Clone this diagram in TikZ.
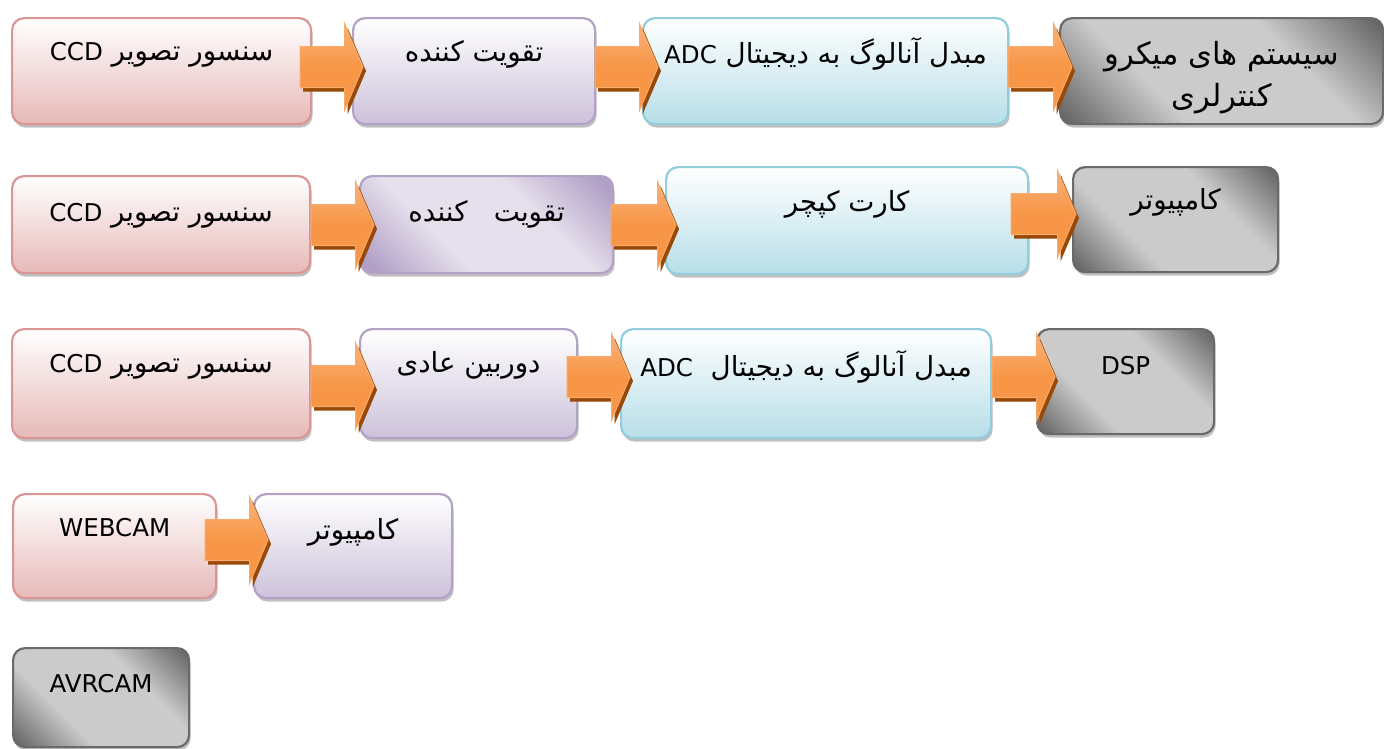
\documentclass[tikz,border=0pt]{standalone}
\usepackage{fontspec}
\setmainfont{DejaVu Sans}
\newfontfamily\fa[Script=Arabic,Scale=1.13]{DejaVu Sans}
\TeXXeTstate=1
\usetikzlibrary{calc,shadows}
\definecolor{pinkB}{HTML}{D99694}
\definecolor{pinkD}{HTML}{E6B9B8}
\definecolor{pinkM}{HTML}{F2DCDB}
\definecolor{purB}{HTML}{B2A2C7}
\definecolor{purD}{HTML}{CCC1DA}
\definecolor{purM}{HTML}{E6E0EC}
\definecolor{purK}{HTML}{B09FC6}
\definecolor{bluB}{HTML}{93CDDD}
\definecolor{bluD}{HTML}{B7DEE8}
\definecolor{bluM}{HTML}{DBEEF4}
\definecolor{grayB}{HTML}{6A6A6A}
\definecolor{grayK}{HTML}{666666}
\definecolor{grayL}{HTML}{CBCBCB}
\definecolor{orF}{HTML}{F79646}
\definecolor{orL}{HTML}{FAB27C}
\definecolor{orB}{HTML}{F9AB6A}
\definecolor{orS}{HTML}{984807}
\pgfdeclareverticalshading{grayshade}{100bp}{color(0bp)=(grayK); color(16bp)=(grayK); color(36bp)=(grayL); color(64bp)=(grayL); color(84bp)=(grayK); color(100bp)=(grayK)}
\pgfdeclareverticalshading{purshade}{100bp}{color(0bp)=(purK); color(18bp)=(purK); color(38bp)=(purM); color(62bp)=(purM); color(82bp)=(purK); color(100bp)=(purK)}
% #1 from, #2 to, #3 start offset, #4 tip offset, #5 y offset from top
\newcommand\blockarrow[5]{%
  \path[arrowshadow] let \p1=($(#1.north east)+(#3,#5)$), \p2=($(#2.north west)+(#4,#5)$) in
    (\x1+3pt,\y1+16.5pt) -- (\x2+3pt-18.5pt,\y1+16.5pt) -- (\x2+3pt-18.5pt,\y1+39.5pt) -- (\x2+3pt,\y1-4pt)
    -- (\x2+3pt-18.5pt,\y1-47.5pt) -- (\x2+3pt-18.5pt,\y1-24.5pt) -- (\x1+3pt,\y1-24.5pt) -- cycle;
  \path[arrowbody] let \p1=($(#1.north east)+(#3,#5)$), \p2=($(#2.north west)+(#4,#5)$) in
    (\x1,\y1+20.5pt) -- (\x2-18.5pt,\y1+20.5pt) -- (\x2-18.5pt,\y1+43.5pt) -- (\x2,\y1)
    -- (\x2-18.5pt,\y1-43.5pt) -- (\x2-18.5pt,\y1-20.5pt) -- (\x1,\y1-20.5pt) -- cycle;
}
\begin{document}
\begin{tikzpicture}[x=1pt,y=-1pt,
  box/.style={rounded corners=12pt, line width=2.2pt, inner sep=0pt, anchor=north west,
    font=\fa\fontsize{24.5}{41}\selectfont,
    drop shadow={shadow xshift=1.5pt, shadow yshift=-3.5pt, opacity=0.45, fill=black!55}},
  pinkbox/.style={box, draw=pinkB, top color=white, middle color=pinkM, bottom color=pinkD},
  purbox/.style={box, draw=purB, top color=white, middle color=purM, bottom color=purD},
  purdiag/.style={box, draw=purB, shading=purshade, shading angle=-45},
  blubox/.style={box, draw=bluB, top color=white, middle color=bluM, bottom color=bluD},
  graybox/.style={box, draw=grayB, shading=grayshade, shading angle=-45},
  arrowshadow/.style={fill=orS},
  arrowbody/.style={draw=orB, line width=1pt, top color=orL, bottom color=orF, middle color=orF},
]
\useasboundingbox (0,0) rectangle (1384,748);
% row 1
\node[pinkbox, minimum width=299, minimum height=106, text height=42, text depth=64] (A1) at (11,17)
  {\beginR سنسور تصویر \beginL{\rmfamily CCD}\endL\endR};
\node[purbox, minimum width=242, minimum height=106, text height=43, text depth=63] (B1) at (352,17)
  {\beginR تقویت کننده\endR};
\node[blubox, minimum width=365, minimum height=106, text height=45, text depth=61] (C1) at (642,17)
  {\beginR مبدل آنالوگ به دیجیتال \beginL{\rmfamily ADC}\endL\endR};
\node[graybox, minimum width=323, minimum height=106, text height=88, text depth=18, align=center,
  font=\fa\fontsize{27}{42}\selectfont] (D1) at (1059,17)
  {\beginR سیستم های میکرو\endR\\\beginR کنترلری\endR};
% row 2
\node[pinkbox, minimum width=298, minimum height=97, text height=45, text depth=52] (A2) at (11,175)
  {\beginR سنسور تصویر \beginL{\rmfamily CCD}\endL\endR};
\node[purdiag, minimum width=253, minimum height=97, text height=45, text depth=52] (B2) at (359,175)
  {\beginR تقویت\ \ \ کننده\endR};
\node[blubox, minimum width=362, minimum height=107, text height=44, text depth=63] (C2) at (665,166)
  {\beginR کارت کپچر\endR};
\node[graybox, minimum width=205, minimum height=105, text height=42, text depth=63] (D2) at (1072,166)
  {\beginR کامپیوتر\endR};
% row 3
\node[pinkbox, minimum width=298, minimum height=109, text height=43, text depth=66] (A3) at (11,328)
  {\beginR سنسور تصویر \beginL{\rmfamily CCD}\endL\endR};
\node[purbox, minimum width=217, minimum height=109, text height=43, text depth=66] (B3) at (359,328)
  {\beginR دوربین عادی\endR};
\node[blubox, minimum width=370, minimum height=109, text height=47, text depth=62] (C3) at (620,328)
  {\beginR مبدل آنالوگ به دیجیتال\ \ \beginL{\rmfamily ADC}\endL\endR};
\node[graybox, minimum width=177, minimum height=105, text height=45, text depth=60] (D3) at (1036,328)
  {\rmfamily DSP};
% row 4
\node[pinkbox, minimum width=203, minimum height=104, text height=42, text depth=62] (A4) at (12,493)
  {\rmfamily WEBCAM};
\node[purbox, minimum width=198, minimum height=104, text height=45, text depth=59] (B4) at (253,493)
  {\beginR کامپیوتر\endR};
% row 5
\node[graybox, minimum width=176, minimum height=99, text height=44, text depth=55] (E5) at (12,647)
  {\rmfamily AVRCAM};
% arrows
\blockarrow{A1}{B1}{-12}{11}{50}
\blockarrow{B1}{C1}{-1}{16}{50}
\blockarrow{C1}{D1}{-1}{13}{50}
\blockarrow{A2}{B2}{0}{15}{50}
\blockarrow{B2}{C2}{-3}{11}{50}
\blockarrow{C2}{D2}{-18}{4}{48}
\blockarrow{A3}{B3}{0}{15}{58}
\blockarrow{B3}{C3}{-11}{10}{49}
\blockarrow{C3}{D3}{0}{19}{49}
\blockarrow{A4}{B4}{-12}{15}{47}
\end{tikzpicture}
\end{document}
